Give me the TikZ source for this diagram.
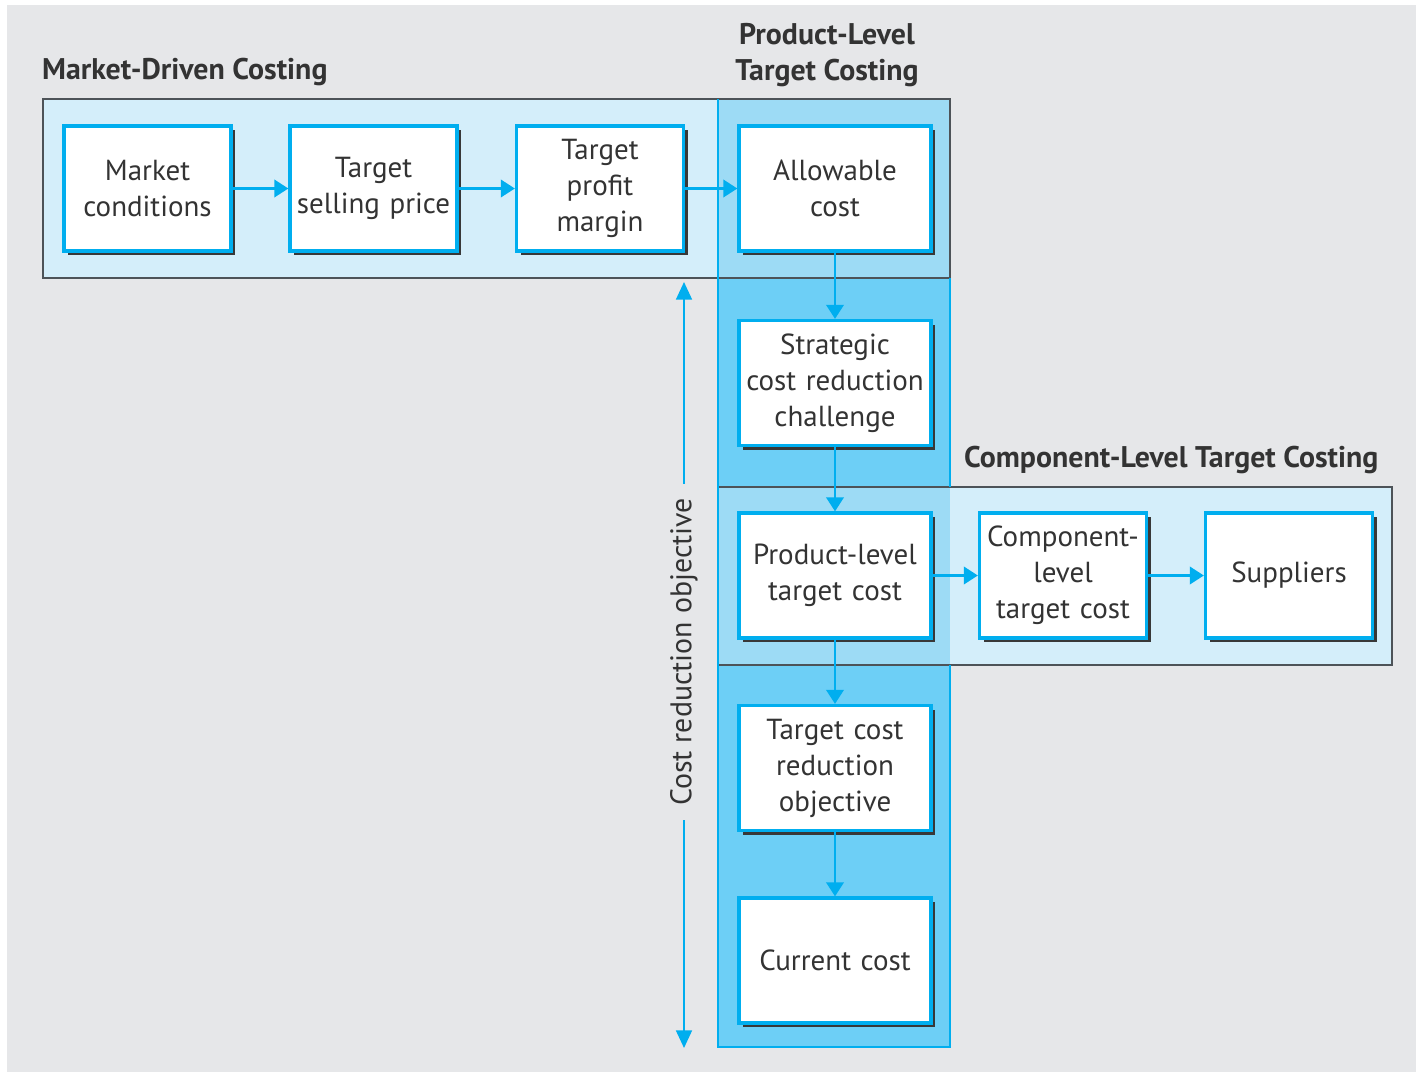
\documentclass[tikz,border=0pt]{standalone}
\usepackage{fontspec}
\setmainfont{PT Sans}
\usetikzlibrary{arrows.meta,shadows}
\definecolor{bg}{HTML}{E6E7E9}
\definecolor{cy}{HTML}{00AEEF}
\definecolor{lightb}{HTML}{D4EEFA}
\definecolor{midb}{HTML}{6DCFF6}
\definecolor{overb}{HTML}{9DDBF5}
\definecolor{frame}{HTML}{4D5358}
\definecolor{txt}{HTML}{333333}
\tikzset{
  stagebox/.style={draw=cy, line width=1.9pt, fill=white, align=center,
    minimum height=2.5cm, inner sep=2pt, text=txt,
    font=\fontsize{16.5}{20.5}\selectfont,
    general shadow={fill=black!78, shadow xshift=2.3pt, shadow yshift=-2.3pt}},
  narrow/.style={minimum width=3.34cm, text width=3.2cm},
  wide/.style={minimum width=3.8cm, text width=3.7cm},
  flow/.style={draw=cy, line width=1.2pt, -{Triangle[length=8pt,width=10pt]}},
  title/.style={font=\bfseries\fontsize{17}{20.5}\selectfont, text=txt, align=center}
}
\begin{document}
\begin{tikzpicture}[x=0.02cm,y=-0.02cm]
\useasboundingbox (0,0) rectangle (1416,1072);
\fill[white] (0,0) rectangle (1416,1072);
\fill[bg] (7,5) rectangle (1416,1072);
% product column
\fill[midb] (718,99) rectangle (950,1047);
% market box
\fill[lightb] (43,99) rectangle (718,278);
\fill[overb] (718,99) rectangle (950,278);
% component box
\fill[lightb] (950,487) rectangle (1392,665);
\fill[overb] (718,487) rectangle (950,665);
\draw[frame, line width=0.9pt] (43,99) rectangle (950,278);
\draw[frame, line width=0.9pt] (718,487) rectangle (1392,665);
\draw[cy, line width=0.9pt] (718,99) -- (718,1047) -- (950,1047) -- (950,665);
\draw[cy, line width=0.9pt] (950,487) -- (950,278);
% titles
\node[title, anchor=west] (t1) at (36,72) {Market-Driven Costing};
\node[title] (t2) at (827,55) {Product-Level\\Target Costing};
\node[title, anchor=west] (t3) at (958,460) {Component-Level Target Costing};
% boxes
\node[stagebox, narrow] (mc) at (147.5,188.5) {Market\\conditions};
\node[stagebox, narrow] (tsp) at (373.5,188.5) {Target\\selling price};
\node[stagebox, narrow] (tpm) at (600,188.5) {Target\\profit\\margin};
\node[stagebox, wide] (ac) at (835,188.5) {Allowable\\cost};
\node[stagebox, wide] (scr) at (835,383) {Strategic\\cost reduction\\challenge};
\node[stagebox, wide] (plt) at (835,575.5) {Product-level\\target cost};
\node[stagebox, narrow] (clt) at (1063,575.5) {Component-\\level\\target cost};
\node[stagebox, narrow] (sup) at (1289,575.5) {Suppliers};
\node[stagebox, wide] (tcro) at (835,768) {Target cost\\reduction\\objective};
\node[stagebox, wide] (cc) at (835,960.5) {Current cost};
% flows
\draw[flow] (mc) -- (tsp);
\draw[flow] (tsp) -- (tpm);
\draw[flow] (tpm) -- (ac);
\draw[flow] (ac) -- (scr);
\draw[flow] (scr) -- (plt);
\draw[flow] (plt) -- (clt);
\draw[flow] (clt) -- (sup);
\draw[flow] (plt) -- (tcro);
\draw[flow] (tcro) -- (cc);
% cost reduction objective
\coordinate (ctop) at (684,282);
\coordinate (cbot) at (684,1048);
\draw[cy, line width=1.2pt, {Triangle[length=10pt,width=9pt]}-{Triangle[length=10pt,width=9pt]}] (ctop) -- (cbot)
  node[pos=0.483, sloped, fill=bg, inner xsep=8pt, inner ysep=1pt, rotate=180, text=txt,
       font=\fontsize{17}{20.5}\selectfont] (cro) {Cost reduction objective};
\end{tikzpicture}
\end{document}
